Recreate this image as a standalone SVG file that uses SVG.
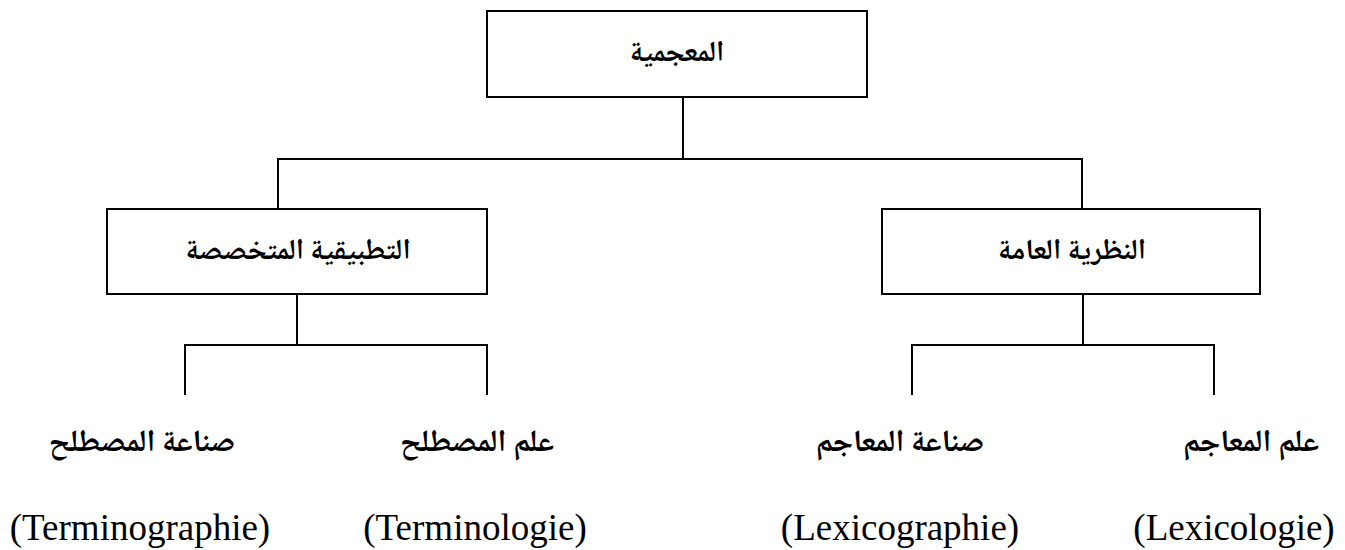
<svg xmlns="http://www.w3.org/2000/svg" width="1345" height="550" viewBox="0 0 1345 550">
<style>
.box{fill:#fff;stroke:#000;stroke-width:2}
.ln{fill:none;stroke:#000;stroke-width:2}
.ar{font-family:"Noto Naskh Arabic","Noto Sans Arabic","DejaVu Sans",sans-serif;font-weight:bold;font-size:29px;text-anchor:middle;direction:rtl;fill:#000}
.lb{font-size:31px}
.en{font-family:"Liberation Serif","Times New Roman",serif;font-size:37px;text-anchor:middle;fill:#000}
</style>
<rect width="1345" height="550" fill="#fff"/>
<g id="connectors">
<path class="ln" d="M683 97V159M278 209V159H1082V209"/>
<path class="ln" d="M297 294V345M185 395V345H487V395"/>
<path class="ln" d="M1083 294V345M912 395V345H1214V395"/>
</g>
<g id="root"><rect class="box" x="487" y="11" width="380" height="86"/><text class="ar" x="677" y="61">المعجمية</text></g>
<g id="applied"><rect class="box" x="107" y="209" width="380" height="85"/><text class="ar" x="298" y="259">التطبيقية المتخصصة</text></g>
<g id="theory"><rect class="box" x="882" y="209" width="378" height="85"/><text class="ar" x="1072" y="259">النظرية العامة</text></g>
<g id="lexicologie"><text class="ar lb" x="1251" y="451">علم المعاجم</text><text class="en" x="1234" y="540">(Lexicologie)</text></g>
<g id="lexicographie"><text class="ar lb" x="900" y="451">صناعة المعاجم</text><text class="en" x="900" y="540">(Lexicographie)</text></g>
<g id="terminologie"><text class="ar lb" x="477" y="451">علم المصطلح</text><text class="en" x="475" y="540">(Terminologie)</text></g>
<g id="terminographie"><text class="ar lb" x="142" y="451">صناعة المصطلح</text><text class="en" x="140" y="540">(Terminographie)</text></g>
</svg>
